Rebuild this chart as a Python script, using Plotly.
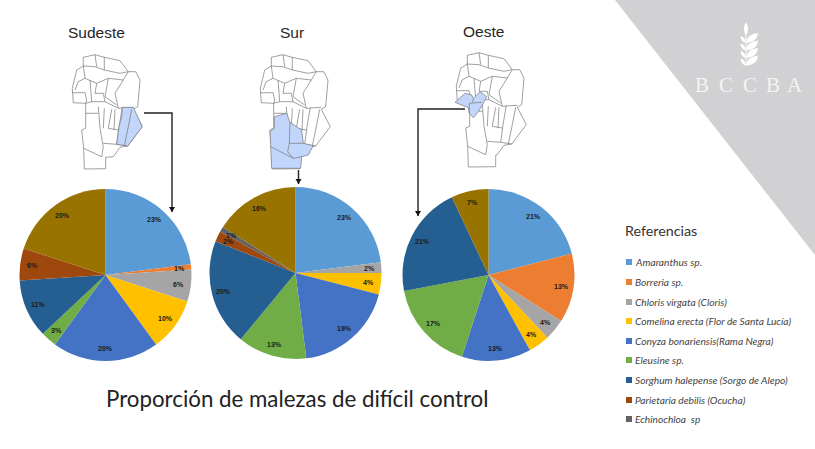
import math
import plotly.graph_objects as go

# ---------- data ----------
categories = ["Amaranthus sp.", "Borreria sp.", "Chloris virgata (Cloris)",
              "Comelina erecta (Flor de Santa Lucía)", "Conyza bonariensis(Rama Negra)",
              "Eleusine sp.", "Sorghum halepense (Sorgo de Alepo)",
              "Parietaria debilis (Ocucha)", "Echinochloa  sp", "Sin referencia"]
colors = ["#5B9BD5", "#ED7D31", "#A5A5A5", "#FFC000", "#4472C4",
          "#70AD47", "#255E91", "#9E480E", "#636363", "#997300"]
sudeste = [23, 1, 6, 10, 20, 3, 11, 6, 0, 20]
sur = [23, 0, 2, 4, 19, 13, 20, 2, 1, 16]
oeste = [21, 13, 4, 4, 13, 17, 21, 0, 0, 7]
logo_letters = ["B", "C", "C", "B", "A"]

W, H = 815, 449
pies = [("Sudeste", sudeste, 105.5, 275, 86, 96, 32),
        ("Sur", sur, 295.5, 273, 86, 292, 32),
        ("Oeste", oeste, 488.5, 275, 86, 483, 31)]

fig = go.Figure()
fig.add_trace(go.Scatter(x=[0], y=[0], mode="markers", marker=dict(opacity=0),
                         showlegend=False, hoverinfo="skip"))
annotations, shapes = [], []


def text(x, y, s, size, family="Lato", color="#222222", anchor="center", **kw):
    annotations.append(dict(x=x, y=y, xref="x", yref="y", text=s, showarrow=False,
                            xanchor=anchor, yanchor="middle", borderpad=0, borderwidth=0,
                            font=dict(size=size, family=family, color=color), **kw))


def poly(points, close=True, fill=None, line="#777777", width=0.7):
    d = "M" + " L".join(f"{x:.1f},{y:.1f}" for x, y in points) + (" Z" if close else "")
    shapes.append(dict(type="path", path=d, xref="x", yref="y",
                       fillcolor=fill if fill else "rgba(0,0,0,0)",
                       line=dict(color=line, width=width) if width else dict(width=0)))


# ---------- corner and logo ----------
poly([(615, 0), (815, 0), (815, 255)], fill="#D1D0D2", width=0)
for i in range(4):
    yb = 43 + i * 7.5
    for sgn, tip in ((-1, 5.5), (1, 12)):
        x0, y0 = 746, yb
        x1, y1 = 746 + sgn * tip, yb - (7 if sgn < 0 else 10)
        d = (f"M{x0},{y0} Q{x0 + sgn * 1},{y1 + 1} {x1},{y1} "
             f"Q{x1 - sgn * 0.5},{y0 - 1} {x0},{y0} Z")
        shapes.append(dict(type="path", path=d, xref="x", yref="y",
                           fillcolor="white", line=dict(width=0)))
shapes.append(dict(type="path", path="M746,22 Q750,29 746,36 Q742,29 746,22 Z", xref="x", yref="y",
                   fillcolor="white", line=dict(width=0)))
poly([(746, 36), (746, 66)], close=False, line="white", width=1)
for letter, lx in zip(logo_letters, [702, 726, 750, 773, 795]):
    text(lx, 85, letter, 21, family="Liberation Serif", color="#F4F4F4")


# ---------- maps (province outline, 3x crop units) ----------
def conv(ox, oy):
    return lambda pts: [(ox + x / 3, oy + y / 3) for x, y in pts]


def outline(bottom_right):
    return [(55, 22), (90, 14), (118, 22), (165, 32), (190, 65), (212, 65), (225, 90), (218, 170),
            (205, 178), (232, 230), (188, 288), (165, 292), (145, 320), (bottom_right, 322),
            (bottom_right, 356), (58, 357), (56, 295), (50, 240), (62, 235), (62, 160), (25, 158),
            (22, 115), (35, 60), (55, 48)]


inner = [[(55, 48), (90, 50), (118, 60), (165, 70), (190, 65)],
         [(90, 14), (95, 50)], [(118, 22), (118, 60)],
         [(55, 48), (60, 85), (95, 100), (130, 85), (175, 90), (190, 65)],
         [(22, 128), (60, 128), (65, 150), (62, 160)],
         [(75, 90), (80, 155)],
         [(95, 100), (90, 130), (115, 130), (120, 155)],
         [(130, 85), (120, 140), (155, 165)],
         [(175, 90), (150, 130), (160, 175)],
         [(62, 160), (80, 155), (120, 155), (160, 175), (205, 172)],
         [(100, 170), (105, 235), (115, 290), (110, 320), (56, 295)],
         [(140, 178), (130, 235), (160, 240)],
         [(115, 280), (155, 283), (188, 288)],
         [(172, 172), (162, 230), (155, 283)],
         [(200, 178), (190, 230), (178, 288)],
         [(60, 85), (40, 95), (30, 120)],
         [(118, 175), (115, 235)],
         [(62, 190), (100, 190)],
         [(150, 178), (147, 240)]]


def base_map(dx, dy, bottom_right):
    c = conv(65 + dx, 50 + dy)
    poly(c(outline(bottom_right)), fill="white")
    for seg in inner:
        poly(c(seg), close=False)


base_map(0, 0, 122)
c = conv(65, 50)
poly(c([(172, 172), (205, 172), (232, 230), (188, 288), (155, 283), (162, 230), (170, 200)]), fill="#C2D5FB")
poly(c([(200, 178), (190, 230), (178, 288)]), close=False)

base_map(188, 0, 140)
c = conv(240, 15)
poly(c([(103, 305), (140, 295), (150, 322), (185, 345), (190, 385), (220, 392), (205, 420), (185, 425),
        (182, 460), (95, 460), (92, 395), (90, 350), (103, 340)]), fill="#C2D5FB")
poly(c([(150, 322), (148, 385), (190, 385)]), close=False)
poly(c([(92, 395), (160, 430), (185, 425)]), close=False)
poly(c([(148, 385), (143, 410), (160, 430)]), close=False)

base_map(384, -2, 140)
c = conv(410, 15)
poly(c([(135, 262), (165, 235), (185, 240), (190, 250), (210, 230), (230, 245), (220, 265), (205, 290),
        (190, 308), (178, 295), (175, 278), (155, 270)]), fill="#C2D5FB")
poly(c([(178, 265), (215, 262)]), close=False)
poly(c([(178, 265), (178, 295)]), close=False)
poly(c([(190, 250), (188, 262)]), close=False)


# ---------- arrows ----------
def arrow(points):
    poly(points, close=False, line="#222222", width=1.4)
    x, y = points[-1]
    poly([(x - 3, y - 5), (x + 3, y - 5), (x, y)], fill="#111111", width=0)


arrow([(144, 113), (172, 113), (172, 212)])
arrow([(298.5, 170), (298.5, 184)])
arrow([(465, 109), (418, 109), (418, 216)])

# ---------- pies ----------
for name, vals, cx, cy, r, tx, ty in pies:
    fig.add_trace(go.Pie(labels=categories, values=vals, sort=False, direction="clockwise", rotation=0,
                         marker=dict(colors=colors, line=dict(width=0)), textinfo="none",
                         showlegend=False, hoverinfo="label+percent", name=name,
                         domain=dict(x=[(cx - r) / W, (cx + r) / W],
                                     y=[1 - (cy + r) / H, 1 - (cy - r) / H])))
    text(tx, ty, name, 15.5, family="Liberation Sans", color="#262626")
    cum = 0
    total = sum(vals)
    for v in vals:
        if v:
            a = 2 * math.pi * (cum + v / 2) / total
            text(cx + 0.86 * r * math.sin(a), cy - 0.86 * r * math.cos(a), f"<b>{v}%</b>", 7,
                 family="Liberation Sans", color="#1a1a1a")
        cum += v

# ---------- legend and title ----------
text(625, 230, "Referencias", 14.3, color="#333333", anchor="left")
leg_y = [262, 282, 302, 321, 341, 360, 380, 400, 419]
for cat, col, y in zip(categories[:9], colors[:9], leg_y):
    shapes.append(dict(type="rect", x0=626, x1=632, y0=y - 3, y1=y + 3, xref="x", yref="y",
                       fillcolor=col, line=dict(width=0)))
    text(635, y, f"<i>{cat}</i>", 10.2, color="#444444", anchor="left")
text(296.5, 398, "Proporción de malezas de difícil control", 22.3, color="#222222")

fig.update_layout(width=W, height=H, margin=dict(l=0, r=0, t=0, b=0), paper_bgcolor="white",
                  plot_bgcolor="white", showlegend=False,
                  xaxis=dict(range=[0, W], visible=False, fixedrange=True),
                  yaxis=dict(range=[H, 0], visible=False, fixedrange=True),
                  shapes=shapes, annotations=annotations)
fig.write_html("out.html", config=dict(displayModeBar=False),
               post_script="document.body.style.margin='0';document.documentElement.style.overflow='hidden';")
